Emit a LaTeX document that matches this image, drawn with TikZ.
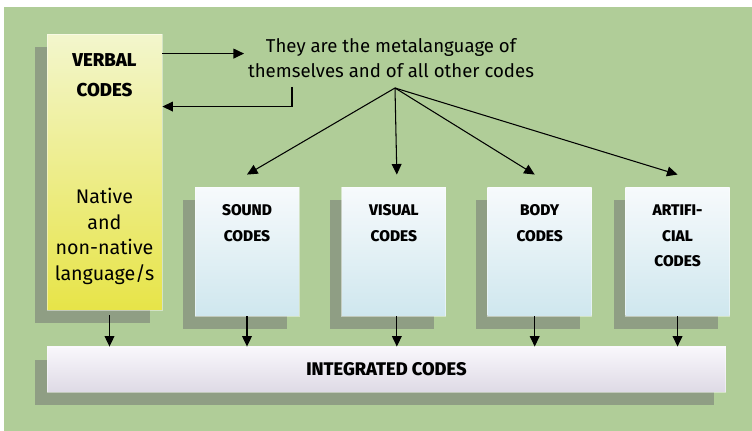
\documentclass[tikz,border=0pt]{standalone}
\usepackage{fontspec}
\setmainfont{Fira Sans}[BoldFont={Fira Sans ExtraBold}]
\usepackage{tikz}
\usetikzlibrary{positioning, arrows.meta, shadows}

\definecolor{bggreen}{RGB}{176,205,152}
\definecolor{shadowgreen}{RGB}{143,158,132}
\definecolor{yellowtop}{RGB}{243,246,205}
\definecolor{yellowbot}{RGB}{231,228,72}
\definecolor{bluetop}{RGB}{247,250,252}
\definecolor{bluebot}{RGB}{207,231,238}
\definecolor{lilactop}{RGB}{249,247,252}
\definecolor{lilacbot}{RGB}{222,218,229}

\tikzset{
>={Triangle[length=6pt, width=5.6pt]}, % filled arrow heads
every path/.style={line width=0.6pt},
codeshadow/.style={general shadow={fill=shadowgreen, shadow xshift=-0.24cm, shadow yshift=-0.26cm}}, % flat offset shadow
rim/.style={draw=white, draw opacity=0.45, line width=0.5pt}, % faint light edge of the boxes
verbalbox/.style={codeshadow, rim, inner sep=0, minimum width=2.3cm, minimum height=5.52cm, top color=yellowtop, bottom color=yellowbot},
codebox/.style={codeshadow, rim, inner sep=0, minimum width=2.08cm, minimum height=2.58cm, top color=bluetop, bottom color=bluebot},
integbox/.style={codeshadow, rim, inner sep=0, minimum width=13.58cm, minimum height=0.9cm, top color=lilactop, bottom color=lilacbot,
  font=\fontsize{10.4}{12}\selectfont\bfseries},
codetext/.style={inner sep=0, align=center, font=\fontsize{8.8}{14.7}\selectfont\bfseries}, % text inside the small boxes
}

\begin{document}
\begin{tikzpicture}[x=0.02cm, y=-0.02cm]
    \useasboundingbox (0,0) rectangle (752,431);
    \fill[bggreen] (4,7) rectangle (752,431);

    % boxes
    \node[verbalbox] (verbal) at (104.5,172) {};
    \node[codebox] (sound) at (247,251.5) {};
    \node[codebox, right=0.84cm of sound] (visual) {};
    \node[codebox, right=0.82cm of visual] (body) {};
    \node[codebox, right=0.66cm of body] (artif) {};
    \node[integbox] (integ) at (386.5,369.5) {INTEGRATED CODES};

    % texts
    \node[codetext, font=\fontsize{10.6}{17.6}\selectfont\bfseries, below=0.38cm of verbal.north] (verbaltxt) {VERBAL\\CODES};
    \node[inner sep=0, align=center, font=\fontsize{11.2}{14.6}\selectfont, below=3.08cm of verbal.north] (native)
        {Native\\and\\non-native\\language/s};
    \node[codetext, below=0.35cm of sound.north] (soundtxt) {SOUND\\CODES};
    \node[codetext, below=0.35cm of visual.north] (visualtxt) {VISUAL\\CODES};
    \node[codetext, below=0.35cm of body.north] (bodytxt) {BODY\\CODES};
    \node[codetext, below=0.35cm of artif.north] (artiftxt) {ARTIFI-\\CIAL\\CODES};
    \node[inner sep=2pt, align=center, font=\fontsize{10.6}{14.2}\selectfont] (meta) at (391,58)
        {They are the metalanguage of\\themselves and of all other codes};

    \coordinate (vout) at ([yshift=-0.4cm]verbal.north east);
    \coordinate (vin) at ([yshift=-1.46cm]verbal.north east);
    \coordinate (back) at (292,87);
    \coordinate (fan) at (395,88);

    % connectors
    \draw[->] (vout) -- (vout -| meta.west);
    \draw[->] (back) |- (vin);
    \draw[->] (fan) -- ([yshift=0.24cm]sound.north);
    \draw[->] (fan) -- ([xshift=0.06cm, yshift=0.24cm]visual.north);
    \draw[->] (fan) -- ([xshift=-0.1cm, yshift=0.24cm]body.north);
    \draw[->] (fan) -- ([yshift=0.24cm]artif.north);

    \draw[->] ([xshift=0.1cm, yshift=-0.1cm]verbal.south) -- ([xshift=0.1cm]verbal.south |- integ.north);
    \draw[->] (sound.south) -- (sound.south |- integ.north);
    \draw[->] ([xshift=0.06cm]visual.south) -- ([xshift=0.06cm]visual.south |- integ.north);
    \draw[->] ([xshift=-0.1cm]body.south) -- ([xshift=-0.1cm]body.south |- integ.north);
    \draw[->] (artif.south) -- (artif.south |- integ.north);
\end{tikzpicture}
\end{document}
